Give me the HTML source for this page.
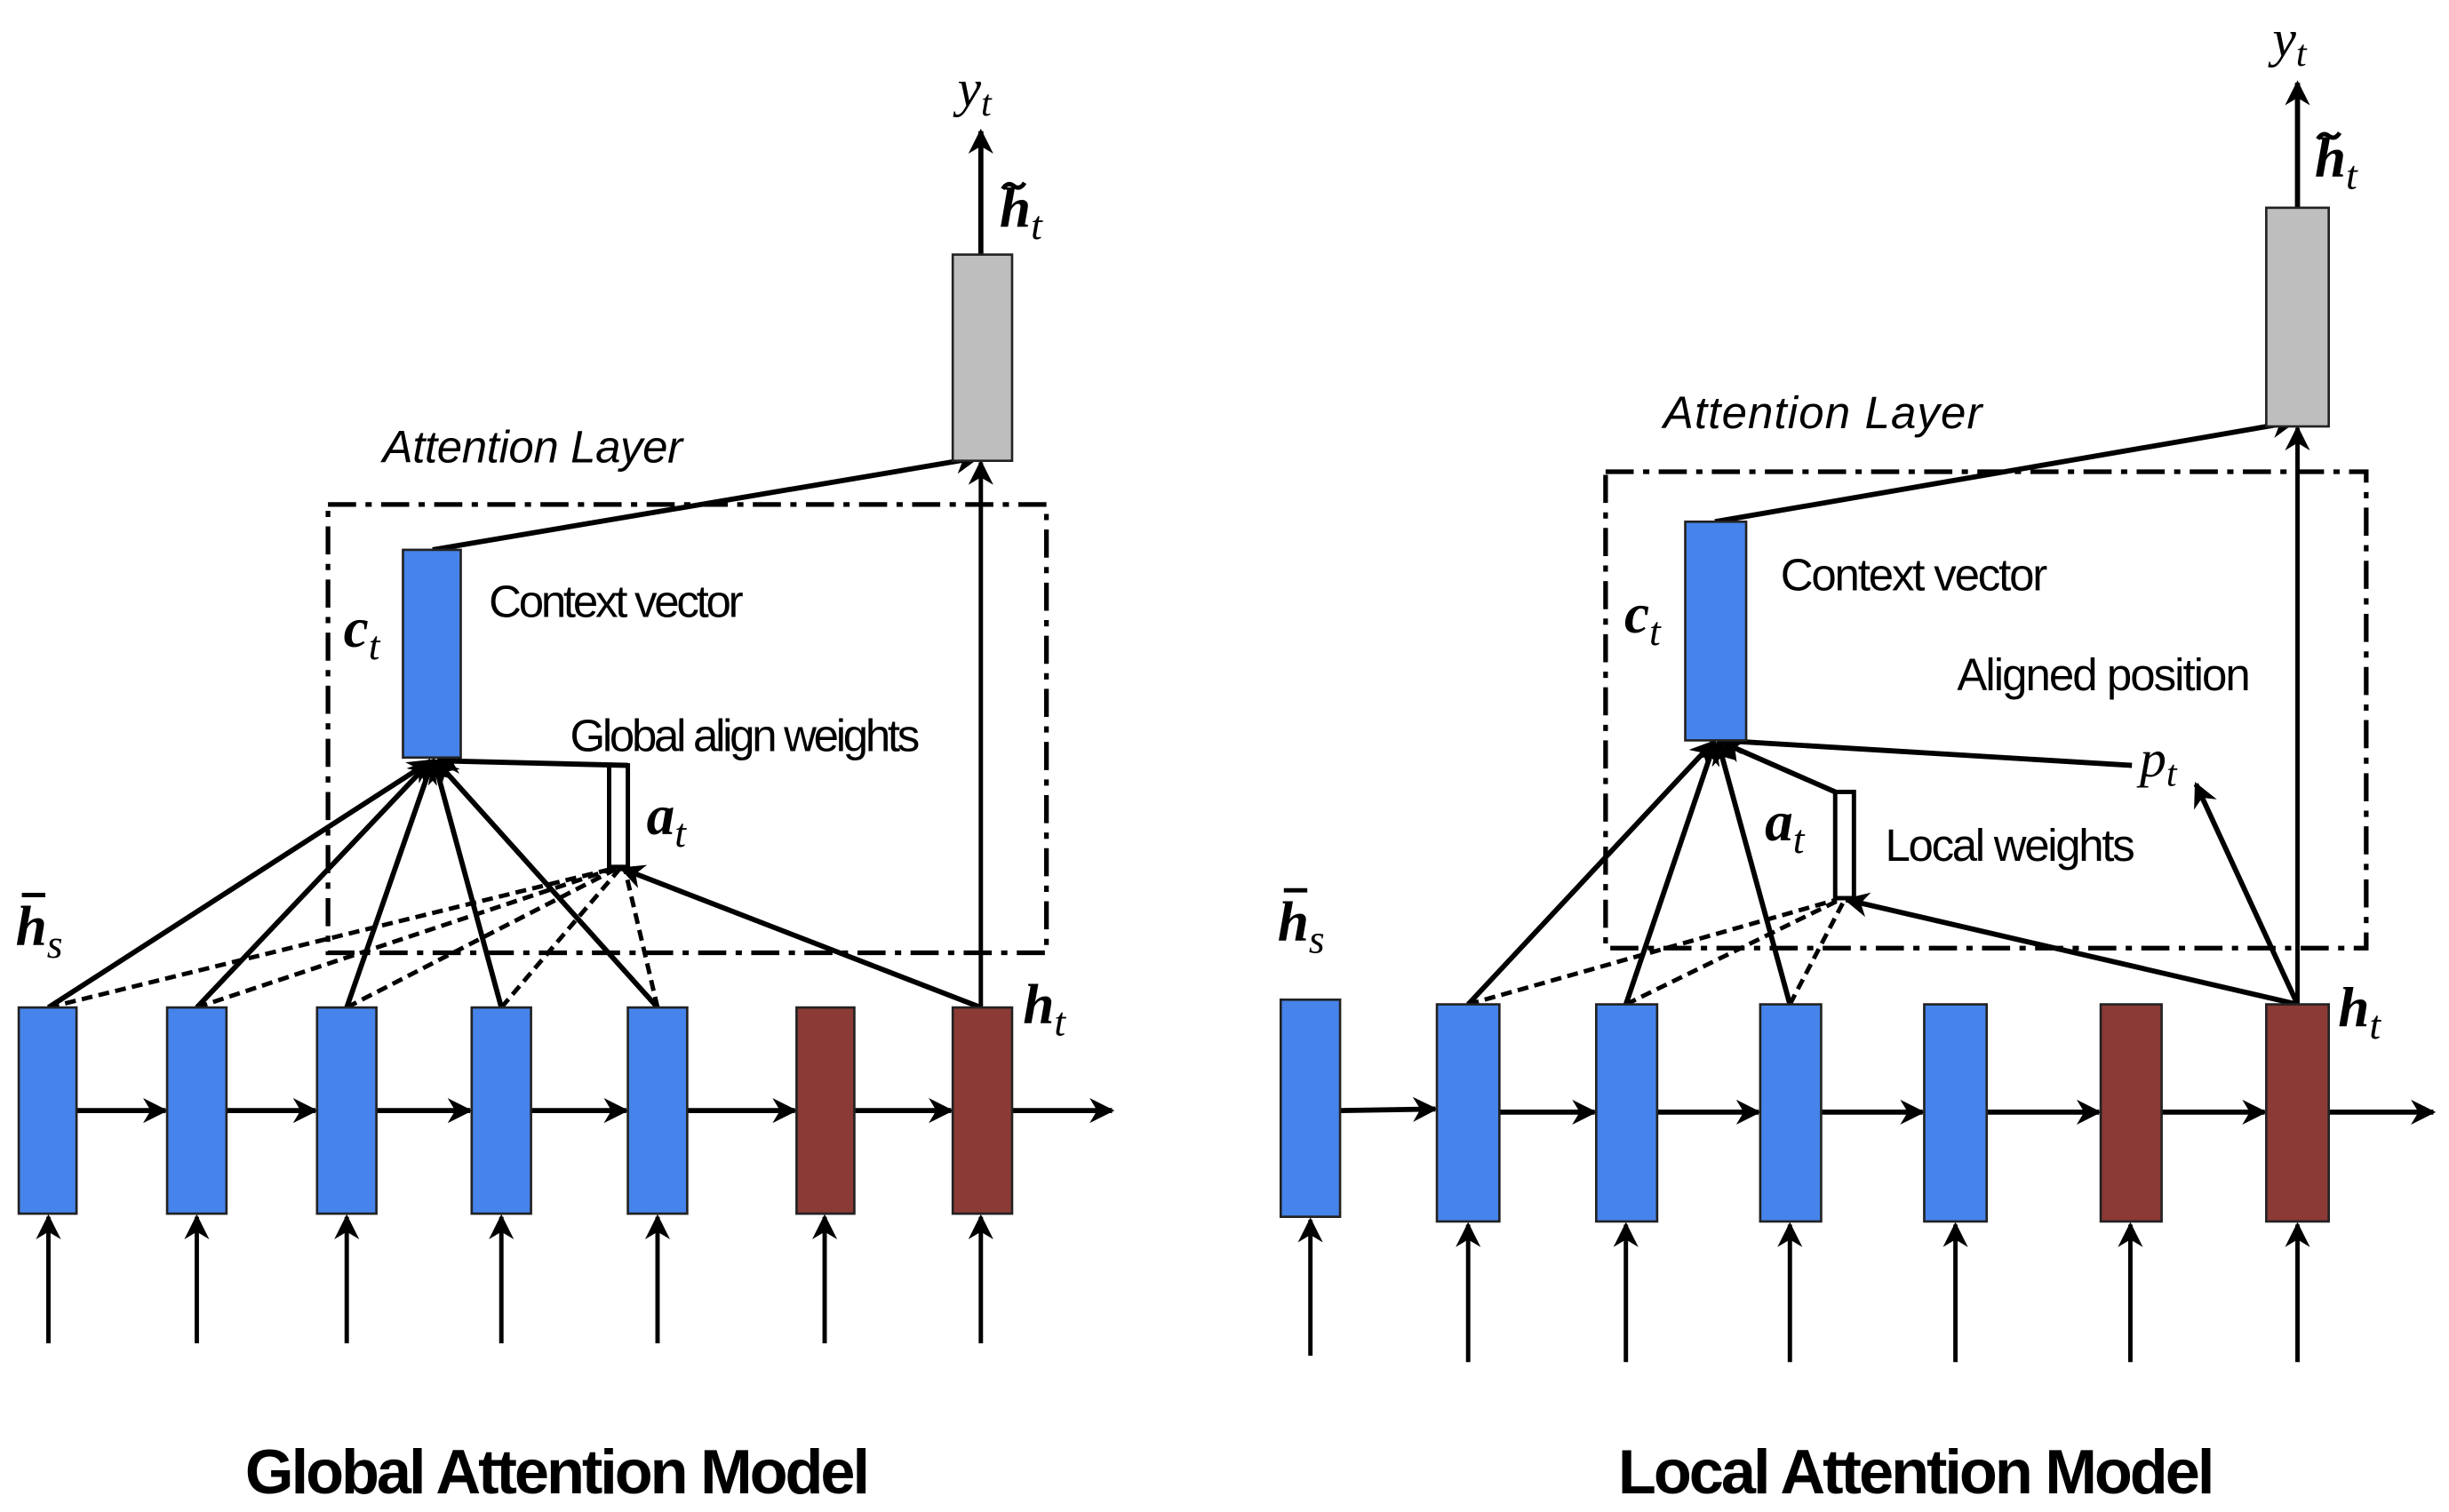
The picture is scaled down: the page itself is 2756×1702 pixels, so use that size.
<!DOCTYPE html>
<html><head><meta charset="utf-8"><style>
html,body{margin:0;padding:0;background:#fff}
svg{display:block}
.t{font-family:"Liberation Sans Narrow","Liberation Sans",sans-serif}
.m{font-family:"Liberation Serif",serif;font-style:italic}
</style></head><body>
<svg width="2756" height="1702" viewBox="0 0 1568 968" preserveAspectRatio="none" xmlns="http://www.w3.org/2000/svg">
<defs>
<marker id="b" viewBox="0 0 10 10" refX="9" refY="5" markerWidth="16" markerHeight="16" orient="auto" markerUnits="userSpaceOnUse">
<path d="M0,0 L10,5 L0,10 L3,5 z" fill="#000"/></marker>
</defs>
<rect width="1568" height="968" fill="#fff"/>
<g stroke="#000" stroke-width="3.3" fill="none">
<!-- LEFT -->
<rect x="210" y="323" width="460" height="287" stroke-width="3" stroke-dasharray="18,6,4,6"/>
<line x1="49" y1="711" x2="106" y2="711" marker-end="url(#b)"/>
<line x1="145" y1="711" x2="202" y2="711" marker-end="url(#b)"/>
<line x1="241" y1="711" x2="301" y2="711" marker-end="url(#b)"/>
<line x1="340" y1="711" x2="401" y2="711" marker-end="url(#b)"/>
<line x1="440" y1="711" x2="509" y2="711" marker-end="url(#b)"/>
<line x1="547" y1="711" x2="609" y2="711" marker-end="url(#b)"/>
<line x1="648" y1="711" x2="712" y2="711" marker-end="url(#b)"/>
<g stroke-width="2.8">
<line x1="31" y1="860" x2="31" y2="779" marker-end="url(#b)"/>
<line x1="126" y1="860" x2="126" y2="779" marker-end="url(#b)"/>
<line x1="222" y1="860" x2="222" y2="779" marker-end="url(#b)"/>
<line x1="321" y1="860" x2="321" y2="779" marker-end="url(#b)"/>
<line x1="421" y1="860" x2="421" y2="779" marker-end="url(#b)"/>
<line x1="528" y1="860" x2="528" y2="779" marker-end="url(#b)"/>
<line x1="628" y1="860" x2="628" y2="779" marker-end="url(#b)"/>
</g>
<g stroke-width="2.8" stroke-dasharray="7,4">
<line x1="31" y1="645" x2="393" y2="556"/>
<line x1="126" y1="645" x2="393" y2="556"/>
<line x1="222" y1="645" x2="395" y2="556"/>
<line x1="321" y1="645" x2="397" y2="556"/>
<line x1="421" y1="645" x2="400" y2="556"/>
</g>
<line x1="31" y1="645" x2="276" y2="487" marker-end="url(#b)"/>
<line x1="126" y1="645" x2="276" y2="487" marker-end="url(#b)"/>
<line x1="222" y1="645" x2="277" y2="487" marker-end="url(#b)"/>
<line x1="321" y1="645" x2="278" y2="487" marker-end="url(#b)"/>
<line x1="421" y1="645" x2="279" y2="487" marker-end="url(#b)"/>
<line x1="628" y1="645" x2="398" y2="556" marker-end="url(#b)"/>
<line x1="628" y1="645" x2="628" y2="296" marker-end="url(#b)" stroke-width="2.8"/>
<line x1="277" y1="352" x2="626" y2="293" marker-end="url(#b)"/>
<line x1="628" y1="163" x2="628" y2="84" marker-end="url(#b)"/>
<rect x="390" y="490" width="12" height="65" stroke-width="2.8"/>
<line x1="402" y1="490" x2="280" y2="487" marker-end="url(#b)"/>
<!-- RIGHT -->
<rect x="1028" y="302" width="487" height="305" stroke-width="3" stroke-dasharray="18,6,4,6"/>
<line x1="858" y1="711" x2="919" y2="710" marker-end="url(#b)"/>
<line x1="960" y1="712" x2="1021" y2="712" marker-end="url(#b)"/>
<line x1="1061" y1="712" x2="1126" y2="712" marker-end="url(#b)"/>
<line x1="1166" y1="712" x2="1231" y2="712" marker-end="url(#b)"/>
<line x1="1272" y1="712" x2="1344" y2="712" marker-end="url(#b)"/>
<line x1="1384" y1="712" x2="1450" y2="712" marker-end="url(#b)"/>
<line x1="1491" y1="712" x2="1558" y2="712" marker-end="url(#b)"/>
<g stroke-width="2.8">
<line x1="839" y1="868" x2="839" y2="781" marker-end="url(#b)"/>
<line x1="940" y1="872" x2="940" y2="784" marker-end="url(#b)"/>
<line x1="1041" y1="872" x2="1041" y2="784" marker-end="url(#b)"/>
<line x1="1146" y1="872" x2="1146" y2="784" marker-end="url(#b)"/>
<line x1="1252" y1="872" x2="1252" y2="784" marker-end="url(#b)"/>
<line x1="1364" y1="872" x2="1364" y2="784" marker-end="url(#b)"/>
<line x1="1471" y1="872" x2="1471" y2="784" marker-end="url(#b)"/>
</g>
<g stroke-width="2.8" stroke-dasharray="7,4">
<line x1="940" y1="643" x2="1176" y2="576"/>
<line x1="1041" y1="643" x2="1178" y2="576"/>
<line x1="1146" y1="643" x2="1181" y2="576"/>
</g>
<line x1="940" y1="643" x2="1097" y2="475" marker-end="url(#b)"/>
<line x1="1041" y1="643" x2="1098" y2="475" marker-end="url(#b)"/>
<line x1="1146" y1="643" x2="1100" y2="475" marker-end="url(#b)"/>
<line x1="1471" y1="643" x2="1182" y2="576" marker-end="url(#b)"/>
<line x1="1471" y1="643" x2="1406" y2="502" marker-end="url(#b)"/>
<line x1="1471" y1="643" x2="1471" y2="274" marker-end="url(#b)" stroke-width="2.8"/>
<line x1="1365" y1="490" x2="1101" y2="474" marker-end="url(#b)"/>
<line x1="1098" y1="334" x2="1469" y2="270" marker-end="url(#b)"/>
<line x1="1471" y1="133" x2="1471" y2="53" marker-end="url(#b)"/>
<rect x="1175" y="507" width="12" height="68" stroke-width="2.8"/>
<line x1="1175" y1="507" x2="1102" y2="475" marker-end="url(#b)"/>
</g>
<g stroke="#222" stroke-width="1.5">
<rect x="12" y="645" width="37" height="132" fill="#4683EA"/>
<rect x="107" y="645" width="38" height="132" fill="#4683EA"/>
<rect x="203" y="645" width="38" height="132" fill="#4683EA"/>
<rect x="302" y="645" width="38" height="132" fill="#4683EA"/>
<rect x="402" y="645" width="38" height="132" fill="#4683EA"/>
<rect x="510" y="645" width="37" height="132" fill="#8B3A36"/>
<rect x="610" y="645" width="38" height="132" fill="#8B3A36"/>
<rect x="258" y="352" width="37" height="133" fill="#4683EA"/>
<rect x="610" y="163" width="38" height="132" fill="#BEBEBE"/>
<rect x="820" y="640" width="38" height="139" fill="#4683EA"/>
<rect x="920" y="643" width="40" height="139" fill="#4683EA"/>
<rect x="1022" y="643" width="39" height="139" fill="#4683EA"/>
<rect x="1127" y="643" width="39" height="139" fill="#4683EA"/>
<rect x="1232" y="643" width="40" height="139" fill="#4683EA"/>
<rect x="1345" y="643" width="39" height="139" fill="#8B3A36"/>
<rect x="1451" y="643" width="40" height="139" fill="#8B3A36"/>
<rect x="1079" y="334" width="39" height="140" fill="#4683EA"/>
<rect x="1451" y="133" width="40" height="140" fill="#BEBEBE"/>
</g>
<g class="t" fill="#000" font-size="29">
<text x="245" y="296" font-style="italic" textLength="192">Attention Layer</text>
<text x="313" y="395" textLength="163">Context vector</text>
<text x="365" y="481" textLength="224">Global align weights</text>
<text x="1065" y="274" font-style="italic" textLength="204">Attention Layer</text>
<text x="1140" y="378" textLength="171">Context vector</text>
<text x="1253" y="442" textLength="188">Aligned position</text>
<text x="1207" y="551" textLength="160">Local weights</text>
<text x="357" y="956" font-size="40" font-weight="bold" text-anchor="middle" textLength="400">Global Attention Model</text>
<text x="1227" y="956" font-size="40" font-weight="bold" text-anchor="middle" textLength="382">Local Attention Model</text>
</g>
<g class="m" fill="#000" font-size="36" font-weight="bold">
<text x="220" y="414">c<tspan font-size="26" font-weight="normal" dy="8">t</tspan></text>
<text x="414" y="534">a<tspan font-size="26" font-weight="normal" dy="8">t</tspan></text>
<text x="10" y="605">h<tspan font-size="26" font-weight="normal" dy="8">s</tspan></text>
<text x="655" y="655">h<tspan font-size="26" font-weight="normal" dy="8">t</tspan></text>
<text x="640" y="145">h<tspan font-size="26" font-weight="normal" dy="8">t</tspan></text>
<text x="1040" y="405">c<tspan font-size="26" font-weight="normal" dy="8">t</tspan></text>
<text x="1130" y="538">a<tspan font-size="26" font-weight="normal" dy="8">t</tspan></text>
<text x="818" y="602">h<tspan font-size="26" font-weight="normal" dy="8">s</tspan></text>
<text x="1497" y="657">h<tspan font-size="26" font-weight="normal" dy="8">t</tspan></text>
<text x="1482" y="113">h<tspan font-size="26" font-weight="normal" dy="8">t</tspan></text>
</g>
<g class="m" fill="#000" font-size="34">
<text x="613" y="68">y<tspan font-size="24" dy="6">t</tspan></text>
<text x="1455" y="36">y<tspan font-size="24" dy="6">t</tspan></text>
<text x="1370" y="497">p<tspan font-size="24" dy="6">t</tspan></text>
</g>
<g stroke="#000" stroke-width="2.8" fill="none">
<line x1="14" y1="573" x2="29" y2="573"/>
<line x1="822" y1="570" x2="837" y2="570"/>
<path d="M642,121 q3,-5 7,-2 t7,-2"/>
<path d="M1484,89 q3,-5 7,-2 t7,-2"/>
</g>
</svg>
</body></html>
